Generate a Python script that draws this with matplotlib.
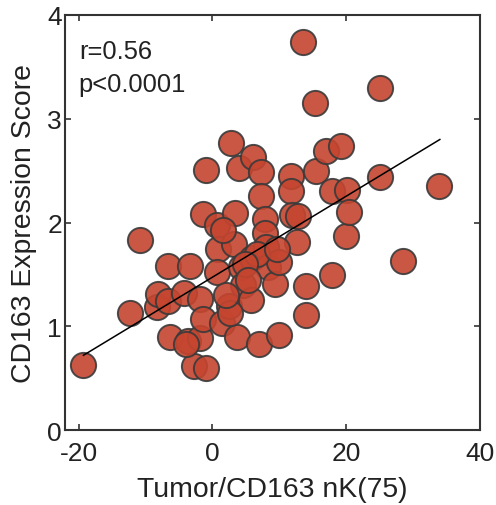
import numpy as np
import matplotlib.pyplot as plt

plt.rcParams['font.family'] = ['Liberation Sans', 'DejaVu Sans']
plt.rcParams['axes.unicode_minus'] = False

# Tumor/CD163 nK vs CD163 expression score
nk = [-19.4, -12.3, -10.9, -8.3, -8.2, -6.6, -6.6, -6.3, -4.3, -3.3,
      -3.6, -2.8, -1.9, -1.9, -1.4, -1.0, -1.0, -1.4, 0.7, 0.9,
      0.7, 1.4, 2.4, 2.8, 3.3, 3.2, 3.7, 4.0, 4.2, 4.6,
      5.7, 5.9, 6.1, 6.9, 7.2, 7.2, 7.9, 7.9, 8.0, 8.3,
      9.4, 9.9, 10.0, 11.8, 11.8, 11.9, 12.8, 12.7, 13.5, 14.0,
      14.0, 15.3, 15.5, 17.0, 17.8, 17.9, 19.2, 19.9, 20.1, 20.4,
      25.0, 25.0, 28.5, 33.8, -3.9, 2.6, 6.6, 9.6, 1.5, 4.8,
      5.3, 2.0]
score = [0.63, 1.13, 1.83, 1.19, 1.31, 1.24, 1.58, 0.90, 1.32, 1.58,
         0.86, 0.62, 1.26, 0.89, 1.07, 0.60, 2.51, 2.08, 1.98, 1.74,
         1.52, 1.03, 1.20, 2.77, 2.09, 1.79, 0.90, 2.53, 1.57, 1.40,
         1.25, 1.66, 2.63, 0.83, 2.49, 2.26, 2.03, 1.90, 1.76, 1.57,
         1.41, 0.92, 1.62, 2.45, 2.30, 2.07, 2.06, 1.81, 3.74, 1.39,
         1.11, 3.15, 2.50, 2.69, 2.30, 1.49, 2.74, 1.87, 2.31, 2.10,
         3.30, 2.44, 1.63, 2.35, 0.83, 1.13, 1.70, 1.74, 1.93, 1.60,
         1.45, 1.30]

# fitted line endpoints
fit_x = [-19.3, 34.0]
fit_y = [0.72, 2.80]

fig = plt.figure(figsize=(4.96, 5.06), dpi=100)
ax = fig.add_axes([0.1304, 0.1482, 0.8373, 0.8202])

ax.scatter(nk, score, s=330, facecolor='#C5452F', edgecolor='#3a3a3a',
           linewidth=1.4, alpha=0.9, zorder=2)
ax.plot(fit_x, fit_y, color='black', linewidth=1.1, zorder=3)

ax.set_xlim(-22.1, 40)
ax.set_ylim(0, 4)
ax.set_xticks([-20, 0, 20, 40])
ax.set_yticks([0, 1, 2, 3, 4])

ax.tick_params(direction='in', length=4.5, width=1.2, top=True, right=True,
               labelsize=19, colors='#333333', labelcolor='#222222')
ax.tick_params(axis='x', pad=8)
ax.tick_params(axis='y', pad=2)
for sp in ax.spines.values():
    sp.set_linewidth(1.5)
    sp.set_color('#333333')

ax.set_xlabel('Tumor/CD163 nK(75)', fontsize=20.4, color='#222222', labelpad=8)
ax.set_ylabel('CD163 Expression Score', fontsize=20.4, color='#222222', labelpad=7)

ax.text(0.034, 0.913, 'r=0.56', transform=ax.transAxes, fontsize=18.4,
        va='center', ha='left', color='#222222')
ax.text(0.034, 0.834, 'p<0.0001', transform=ax.transAxes, fontsize=18.4,
        va='center', ha='left', color='#222222')

fig.savefig('out.png', dpi=100)
